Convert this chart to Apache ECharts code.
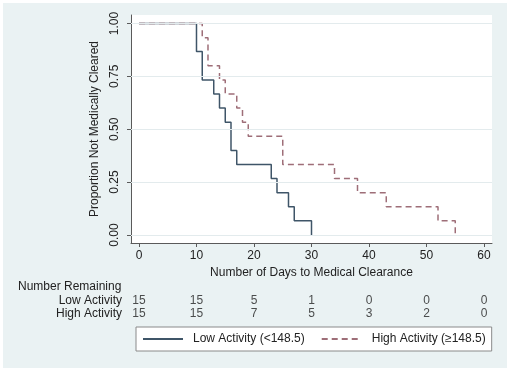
<!DOCTYPE html>
<html><head><meta charset="utf-8">
<script src="https://cdn.jsdelivr.net/npm/echarts@6/dist/echarts.min.js"></script>
<style>html,body{margin:0;padding:0;background:#fff}#c{width:510px;height:372px}</style>
</head><body><div id="c"></div>
<script>
// Kaplan-Meier curves
const lowTimes  = [0, 10, 11, 13, 14, 15, 16, 17, 23, 24, 26, 27, 30];
const lowSurv   = [1, 0.867, 0.733, 0.667, 0.6, 0.533, 0.4, 0.333, 0.267, 0.2, 0.133, 0.067, 0];
const highTimes = [0, 11, 12, 14, 15, 17, 18, 19, 25, 34, 38, 43, 52, 55];
const highSurv  = [1, 0.933, 0.8, 0.733, 0.667, 0.6, 0.533, 0.467, 0.333, 0.267, 0.2, 0.133, 0.067, 0];
// axis ticks
const xTicks = [0, 10, 20, 30, 40, 50, 60];
const yTicks = [0, 0.25, 0.5, 0.75, 1];
// number-at-risk table
const riskTimes = [0, 10, 20, 30, 40, 50, 60];
const riskRows  = ['Low Activity', 'High Activity'];
const lowRisk   = [15, 15, 5, 1, 0, 0, 0];
const highRisk  = [15, 15, 7, 5, 3, 2, 0];
const seriesNames = ['Low Activity (<148.5)', 'High Activity (≥148.5)'];

const FONT = "'Liberation Sans', Arial, Helvetica, sans-serif";
const TXT = '#222';
const AX = '#5a5a5a';
const LOWC = '#3f5568';
const HIGHC = '#9e6e78';

const chart = echarts.init(document.getElementById('c'), null, {renderer: 'canvas'});
const lowData = lowTimes.map((t, i) => [t, lowSurv[i]]);
const highData = highTimes.map((t, i) => [t, highSurv[i]]);
const riskData = riskTimes.map((t, i) => [t, riskRows[0], lowRisk[i]])
  .concat(riskTimes.map((t, i) => [t, riskRows[1], highRisk[i]]));

const option = {
  animation: false,
  backgroundColor: '#fff',
  textStyle: {fontFamily: FONT},
  graphic: [
    {type: 'rect', z: -10, silent: true, shape: {x: 3, y: 3, width: 504, height: 365}, style: {fill: '#eaf2f3'}},
    {type: 'text', x: 18, y: 287, silent: true,
     style: {text: 'Number Remaining', fontSize: 12, fontFamily: FONT, fill: TXT, verticalAlign: 'middle'}}
  ],
  grid: [
    {left: 131, top: 15, width: 361, height: 228, show: true, backgroundColor: '#fff', borderWidth: 0},
    {left: 131, top: 293.5, width: 361, height: 27, show: false}
  ],
  xAxis: [
    {gridIndex: 0, type: 'value', min: -1.39, max: 61.39,
     axisLine: {show: true, onZero: false, lineStyle: {color: AX, width: 1}},
     axisTick: {show: true, customValues: xTicks, length: 4, lineStyle: {color: AX}},
     axisLabel: {customValues: xTicks, margin: 7, color: TXT, fontSize: 12, fontFamily: FONT},
     splitLine: {show: false},
     name: 'Number of Days to Medical Clearance', nameLocation: 'middle', nameGap: 22,
     nameTextStyle: {color: TXT, fontSize: 12, fontFamily: FONT}},
    {gridIndex: 1, type: 'value', min: -1.39, max: 61.39, show: false}
  ],
  yAxis: [
    {gridIndex: 0, type: 'value', min: -0.0378, max: 1.04,
     axisLine: {show: true, onZero: false, lineStyle: {color: AX, width: 1}},
     axisTick: {show: true, customValues: yTicks, length: 4, lineStyle: {color: AX}},
     axisLabel: {customValues: yTicks, rotate: 90, margin: 10, color: TXT, fontSize: 12, fontFamily: FONT,
                 formatter: v => v.toFixed(2)},
     splitLine: {show: false},
     name: 'Proportion Not Medically Cleared', nameLocation: 'middle', nameGap: 30, nameRotate: 90,
     nameTextStyle: {color: TXT, fontSize: 12, fontFamily: FONT}},
    {gridIndex: 1, type: 'category', data: riskRows, inverse: true,
     axisLine: {show: false}, axisTick: {show: false}, splitLine: {show: false},
     axisLabel: {interval: 0, hideOverlap: false, margin: 9, color: TXT, fontSize: 12, fontFamily: FONT}}
  ],
  legend: {
    data: seriesNames, left: 136, top: 327, orient: 'horizontal',
    itemWidth: 40, itemHeight: 12, itemGap: 16, padding: [6, 6, 6, 6],
    backgroundColor: '#fff', borderColor: '#8a8a8a', borderWidth: 1, borderRadius: 0,
    selectedMode: false,
    itemStyle: {opacity: 0},
    textStyle: {color: TXT, fontSize: 12, fontFamily: FONT, padding: [0, 0, 0, 5]}
  },
  series: [
    {type: 'line', xAxisIndex: 0, yAxisIndex: 0, data: [], silent: true, z: 1,
     markLine: {silent: true, symbol: ['none', 'none'], label: {show: false}, animation: false,
                lineStyle: {color: '#e3ebed', width: 1, type: 'solid'},
                data: yTicks.map(v => ({yAxis: v}))}},
    {name: seriesNames[0], type: 'line', step: 'end', xAxisIndex: 0, yAxisIndex: 0, data: lowData,
     symbol: 'none', z: 3, lineStyle: {color: LOWC, width: 1.5}, itemStyle: {color: LOWC}},
    {name: seriesNames[1], type: 'line', step: 'end', xAxisIndex: 0, yAxisIndex: 0, data: highData,
     symbol: 'none', z: 3, lineStyle: {color: HIGHC, width: 1.5, type: [6, 4]}, itemStyle: {color: HIGHC}},
    {type: 'scatter', xAxisIndex: 1, yAxisIndex: 1, data: riskData, silent: true,
     symbolSize: 1, itemStyle: {color: 'rgba(0,0,0,0)'},
     label: {show: true, position: 'inside', formatter: p => String(p.value[2]),
             color: TXT, fontSize: 12, fontFamily: FONT}}
  ]
};
chart.setOption(option);
</script>
</body></html>
